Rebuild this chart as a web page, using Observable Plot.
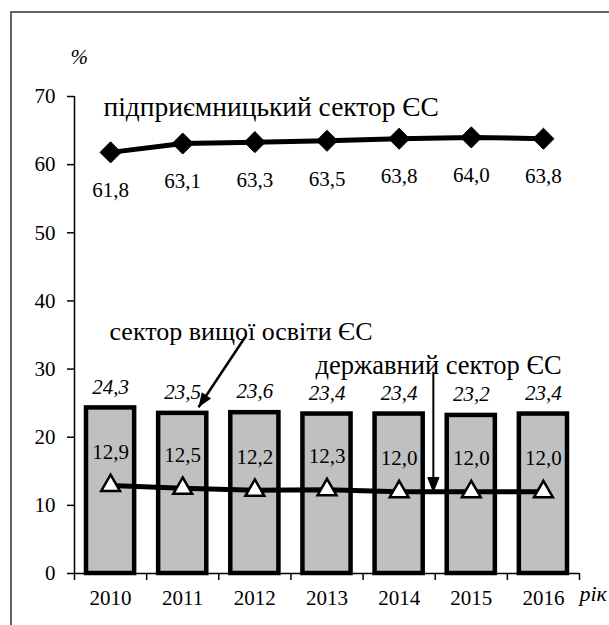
<!DOCTYPE html>
<html>
<head>
<meta charset="utf-8">
<script src="https://cdn.jsdelivr.net/npm/d3@7"></script>
<script src="https://cdn.jsdelivr.net/npm/@observablehq/plot@0.6"></script>
<style>
  html, body { margin: 0; padding: 0; background: #fff; }
  #wrap { position: relative; width: 609px; height: 625px; overflow: hidden; }
  #frame { position: absolute; left: 10px; top: 11px; width: 700px; height: 700px;
           border-left: 2px solid #666; border-top: 2px solid #666; }
  #chart { position: absolute; left: 0; top: 0; }
  #chart svg, #chart svg text { font-family: "Liberation Serif", "DejaVu Serif", serif !important; }
</style>
</head>
<body>
<div id="wrap"><div id="frame"></div><div id="chart"></div></div>
<script>
// ---- data ----
const years = [2010, 2011, 2012, 2013, 2014, 2015, 2016];
const business = [61.8, 63.1, 63.3, 63.5, 63.8, 64.0, 63.8];     // підприємницький сектор ЄС
const higherEd = [24.3, 23.5, 23.6, 23.4, 23.4, 23.2, 23.4];     // сектор вищої освіти ЄС
const government = [12.9, 12.5, 12.2, 12.3, 12.0, 12.0, 12.0];   // державний сектор ЄС
const yTicks = [0, 10, 20, 30, 40, 50, 60, 70];
const labelBusiness = "підприємницький сектор ЄС";
const labelHigher = "сектор вищої освіти ЄС";
const labelGov = "державний сектор ЄС";
const labelUnit = "%";
const labelYear = "рік";

const rows = years.map((year, i) => ({year, business: business[i], higher: higherEd[i], gov: government[i]}));
const boundaries = years.map(y => y - 0.5).concat([years[years.length - 1] + 0.5]);
const fmt = v => v.toFixed(1).replace(".", ",");

const FONT = "Liberation Serif, DejaVu Serif, serif";
const headSymbol = {
  draw(ctx, size) {
    const s = Math.sqrt(size);
    ctx.moveTo(0, 0);
    ctx.lineTo(-0.45 * s, 1.15 * s);
    ctx.lineTo(0.45 * s, 1.15 * s);
    ctx.closePath();
  }
};

const chart = Plot.plot({
  width: 609,
  height: 625,
  marginLeft: 74,
  marginRight: 30,
  marginTop: 96,
  marginBottom: 52,
  style: {fontFamily: FONT, fontSize: "22px", background: "transparent", color: "#000"},
  x: {type: "linear", domain: [years[0] - 0.5, years[years.length - 1] + 0.5]},
  y: {domain: [0, 70]},
  marks: [
    // bars: higher education sector
    Plot.rect(rows, {x1: d => d.year - 0.5, x2: d => d.year + 0.5, y1: 0, y2: "higher",
      insetLeft: 12, insetRight: 12, fill: "#c0c0c0", stroke: "#000", strokeWidth: 4.5}),
    // axes
    Plot.ruleY([0], {stroke: "#000", strokeWidth: 1.5}),
    Plot.ruleX([years[0] - 0.5], {y1: 0, y2: 70, stroke: "#000", strokeWidth: 1.5}),
    Plot.axisY(yTicks, {tickSize: 7, tickPadding: 12, strokeWidth: 1.5, fontSize: 21, label: null, tickFormat: d => String(d)}),
    Plot.axisX(boundaries, {tickSize: 7, strokeWidth: 1.5, label: null, tickFormat: () => ""}),
    Plot.axisX(years, {tickSize: 0, tickPadding: 17, fontSize: 21, label: null, tickFormat: d => String(d)}),
    // government line
    Plot.line(rows, {x: "year", y: "gov", stroke: "#000", strokeWidth: 5}),
    Plot.dot(rows, {x: "year", y: "gov", symbol: "triangle", r: 7, fill: "#fff", stroke: "#000", strokeWidth: 2.5}),
    // business line
    Plot.line(rows, {x: "year", y: "business", stroke: "#000", strokeWidth: 5}),
    Plot.dot(rows, {x: "year", y: "business", symbol: "diamond2", r: 9.5, fill: "#000", stroke: "#000", strokeWidth: 1}),
    // value labels
    Plot.text(rows, {x: "year", y: "business", text: d => fmt(d.business), dy: 38, fontSize: 21}),
    Plot.text(rows, {x: "year", y: "higher", text: d => fmt(d.higher), dy: -21, fontSize: 21, fontStyle: "italic"}),
    Plot.text(rows, {x: "year", y: "gov", text: d => fmt(d.gov), dy: -33, fontSize: 21}),
    // annotation texts
    Plot.text([labelBusiness], {frameAnchor: "top-left", textAnchor: "start", dx: 29, dy: 0, fontSize: 27.5}),
    Plot.text([labelHigher], {frameAnchor: "top-left", textAnchor: "start", dx: 35, dy: 225, fontSize: 26}),
    Plot.text([labelGov], {frameAnchor: "top-left", textAnchor: "start", dx: 241, dy: 259, fontSize: 26.5}),
    Plot.text([labelUnit], {frameAnchor: "top-left", textAnchor: "start", dx: -4, dy: -47, fontSize: 21, fontStyle: "italic"}),
    Plot.text([labelYear], {frameAnchor: "bottom-right", textAnchor: "start", dx: 0, dy: 27, fontSize: 22, fontStyle: "italic"}),
    // arrows
    Plot.link([0], {x1: 2011.866, y1: 34.7, x2: 2011.219, y2: 24.4, stroke: "#000", strokeWidth: 2.5}),
    Plot.dot([0], {x: 2011.219, y: 24.4, symbol: headSymbol, r: 7, fill: "#000", rotate: 213.6}),
    Plot.link([0], {x1: 2014.474, y1: 29.6, x2: 2014.474, y2: 12.0, stroke: "#000", strokeWidth: 2}),
    Plot.dot([0], {x: 2014.474, y: 12.0, symbol: headSymbol, r: 7, fill: "#000", stroke: "#000", strokeWidth: 1, rotate: 180})
  ]
});
document.getElementById("chart").appendChild(chart);
</script>
</body>
</html>
